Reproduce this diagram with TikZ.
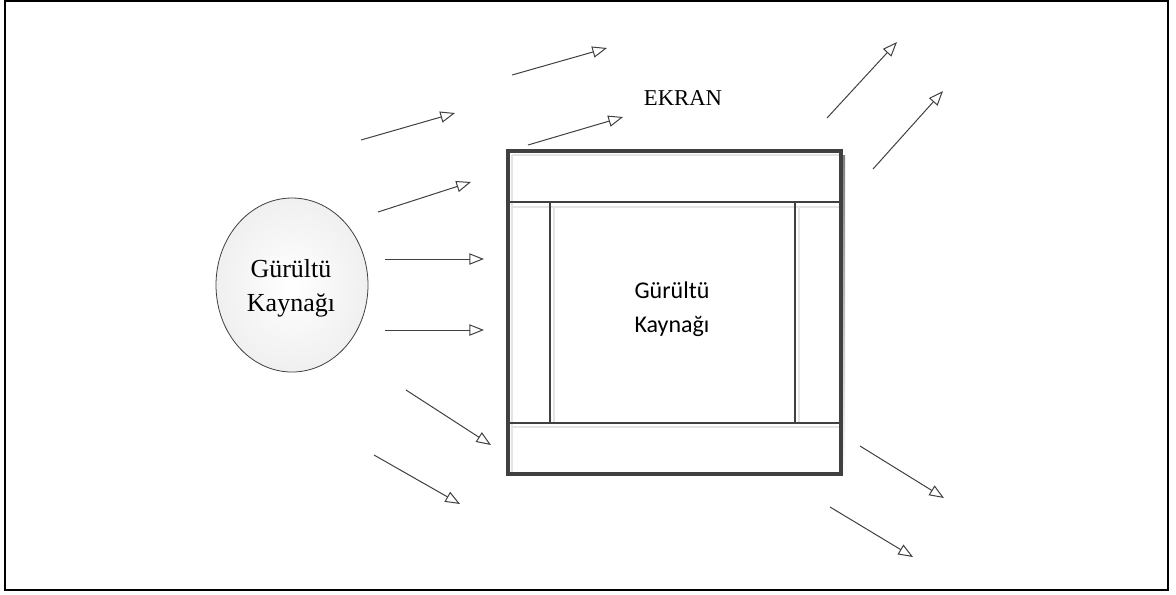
\documentclass[tikz,border=0pt]{standalone}
\usepackage{fontspec}
\setmainfont{Liberation Serif}
\newfontfamily\calibri{Carlito}
\usetikzlibrary{arrows.meta,shapes.geometric,shadings}
\definecolor{ink}{HTML}{404040}
\definecolor{shade}{HTML}{E4E4E4}
\begin{document}
\begin{tikzpicture}[x=0.75pt,y=-0.75pt,
  wave/.style={draw=ink,line width=0.75pt,
    -{Triangle[open,length=11pt,width=8.5pt,line width=0.75pt]}},
  divider/.style={draw=ink,line width=0.9pt},
  ghost/.style={draw=shade,line width=1.2pt}]
\useasboundingbox (0,0) rectangle (1176,594);
\draw[line width=1.5pt] (5,1) rectangle (1168,590);

% noise source
\node[ellipse,draw=ink,line width=0.6pt,inner color=white,outer color=gray!12,
  minimum width=114pt,minimum height=130.5pt,inner sep=0pt] (src) at (292,285) {};
\node[align=center,font=\fontsize{19.5}{25.5}\selectfont] (srclabel) at (291,288)
  {Gürültü\\Kaynağı};

% screen enclosure: shadow, bands, frame
\coordinate (tl) at (508,151);
\coordinate (br) at (841,474);
\fill[shade] (512,155) rectangle (845,478);
\fill[white] (508,151) rectangle (841,474);
\draw[ghost] (512,155) -- (512,474);
\draw[ghost] (512,155) -- (841,155);
\draw[ghost] (554,207) -- (554,423);
\draw[ghost] (799,207) -- (799,423);
\draw[ghost] (512,207) -- (841,207);
\draw[ghost] (512,427) -- (841,427);
\draw[divider] (508,202) -- (841,202);
\draw[divider] (508,423) -- (841,423);
\draw[divider] (550,202) -- (550,423);
\draw[divider] (795,202) -- (795,423);
\draw[draw=ink,line width=3pt] (tl) rectangle (br);
\node[align=center,font=\calibri\fontsize{18}{25.5}\selectfont] (inner) at (672,309)
  {Gürültü\\Kaynağı};
\node[font=\fontsize{17}{20}\selectfont] (title) at (683,98) {EKRAN};

% incoming waves
\coordinate (a1s) at (512,75);  \coordinate (a1e) at (607,48);
\coordinate (a2s) at (361,140); \coordinate (a2e) at (455,113);
\coordinate (a3s) at (528,145); \coordinate (a3e) at (623,117);
\coordinate (a4s) at (378,212); \coordinate (a4e) at (471,182);
\coordinate (a5s) at (385,259); \coordinate (a5e) at (484,259);
\coordinate (a6s) at (385,330); \coordinate (a6e) at (484,330);
\coordinate (a7s) at (406,390); \coordinate (a7e) at (491,445);
\coordinate (a8s) at (374,455); \coordinate (a8e) at (460,504);
% outgoing waves
\coordinate (b1s) at (827,118); \coordinate (b1e) at (897,42);
\coordinate (b2s) at (873,169); \coordinate (b2e) at (943,91);
\coordinate (b3s) at (860,446); \coordinate (b3e) at (944,498);
\coordinate (b4s) at (830,507); \coordinate (b4e) at (913,557);

\foreach \p in {a1,a2,a3,a4,a5,a6,a7,a8,b1,b2,b3,b4}
  \draw[wave] (\p s) -- (\p e);
\end{tikzpicture}
\end{document}
